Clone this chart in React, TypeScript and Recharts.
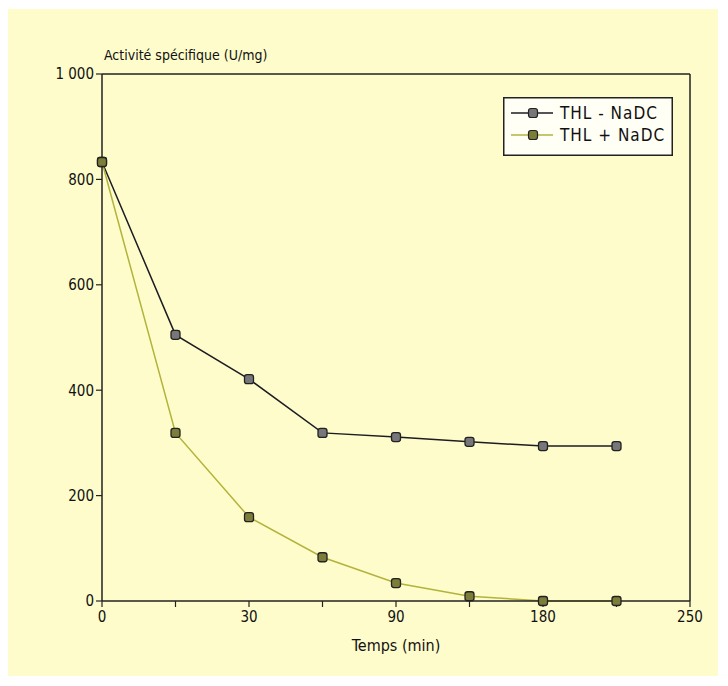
import React from "react";
import { Line, LineChart, ReferenceLine, XAxis, YAxis } from "recharts";

// positions on the x axis (evenly spaced sampling points)
const positions = [0, 1, 2, 3, 4, 5, 6, 7];
const xTickLabels = ["0", "", "30", "", "90", "", "180", "", "250"];
const yTicks = [0, 200, 400, 600, 800, 1000];

const sansNaDC = [833, 505, 421, 319, 311, 302, 294, 294];
const avecNaDC = [833, 319, 159, 83, 34, 9, 0, 0];

const data = positions.map((p, i) => ({ pos: p, moins: sansNaDC[i], plus: avecNaDC[i] }));

const FONT = '"DejaVu Sans Condensed", "Liberation Sans Narrow", "Liberation Sans", sans-serif';
const BG = "#FEFCCB";
const DARK = "#1c1c24";
const DARK_FILL = "#77777a";
const OLIVE = "#b3b33c";
const OLIVE_FILL = "#7d7d3a";

function SquareDot(fill: string) {
  return (props: any) => {
    const { cx, cy, index } = props;
    if (cx == null || cy == null) return null;
    return <rect key={index} x={cx - 4.5} y={cy - 4.5} width={9} height={9} rx={2.5} fill={fill} stroke="#222" strokeWidth={1.3} />;
  };
}

function LegendBox() {
  const rows = [
    { label: "THL - NaDC", stroke: DARK, fill: DARK_FILL },
    { label: "THL + NaDC", stroke: OLIVE, fill: OLIVE_FILL },
  ];
  return (
    <svg width={170} height={59} style={{ display: "block" }}>
      <rect x={0.75} y={0.75} width={168.5} height={57.5} fill="#FFFFF6" stroke="#222" strokeWidth={1.5} />
      {rows.map((r, i) => (
        <g key={r.label}>
          <line x1={8} x2={50} y1={16 + i * 22} y2={16 + i * 22} stroke={r.stroke} strokeWidth={1.5} />
          <rect x={25.5} y={11.5 + i * 22} width={9} height={9} rx={2.5} fill={r.fill} stroke="#222" strokeWidth={1.2} />
          <text x={57} y={22 + i * 22} fontSize={17} letterSpacing={1} fontFamily={FONT} fill="#111">{r.label}</text>
        </g>
      ))}
    </svg>
  );
}

export default function App() {
  return (
    <div style={{ position: "absolute", left: 0, top: 0, width: 728, height: 686, background: "#fff", fontFamily: FONT }}>
      <div style={{ position: "absolute", left: 8, top: 9, width: 710, height: 667, background: BG }} />
      <div style={{ position: "absolute", left: 104, top: 47, fontSize: 14, color: "#111", whiteSpace: "nowrap" }}>
        Activité spécifique (U/mg)
      </div>
      <div style={{ position: "absolute", left: 0, top: 0 }}>
        <LineChart width={728} height={686} data={data} margin={{ top: 74, right: 38, bottom: 35, left: 0 }}>
          <XAxis
            dataKey="pos"
            type="number"
            domain={[0, 8]}
            ticks={[0, 1, 2, 3, 4, 5, 6, 7, 8]}
            tickFormatter={(v: number) => xTickLabels[v]}
            interval={0}
            height={50}
            axisLine={{ stroke: "#222", strokeWidth: 1.5 }}
            tickLine={{ stroke: "#222", strokeWidth: 1.2 }}
            tickSize={6}
            tick={{ fontSize: 15, fill: "#111", fontFamily: FONT, dy: 2 }}
            label={{ value: "Temps (min)", position: "insideBottom", offset: 0, fontSize: 16, fill: "#111", fontFamily: FONT }}
          />
          <YAxis
            domain={[0, 1000]}
            ticks={yTicks}
            width={102}
            axisLine={{ stroke: "#222", strokeWidth: 1.5 }}
            tickLine={{ stroke: "#222", strokeWidth: 1.2 }}
            tickSize={6}
            tickFormatter={(v: number) => (v === 1000 ? "1 000" : String(v))}
            tick={{ fontSize: 15, fill: "#111", fontFamily: FONT }}
          />
          <ReferenceLine y={1000} stroke="#222" strokeWidth={1.5} />
          <ReferenceLine x={8} stroke="#222" strokeWidth={1.5} />
          <Line dataKey="moins" name="THL - NaDC" type="linear" stroke={DARK} strokeWidth={1.5} dot={SquareDot(DARK_FILL)} isAnimationActive={false} />
          <Line dataKey="plus" name="THL + NaDC" type="linear" stroke={OLIVE} strokeWidth={1.5} dot={SquareDot(OLIVE_FILL)} isAnimationActive={false} />
        </LineChart>
      </div>
      <div style={{ position: "absolute", left: 503, top: 97 }}>
        <LegendBox />
      </div>
    </div>
  );
}
